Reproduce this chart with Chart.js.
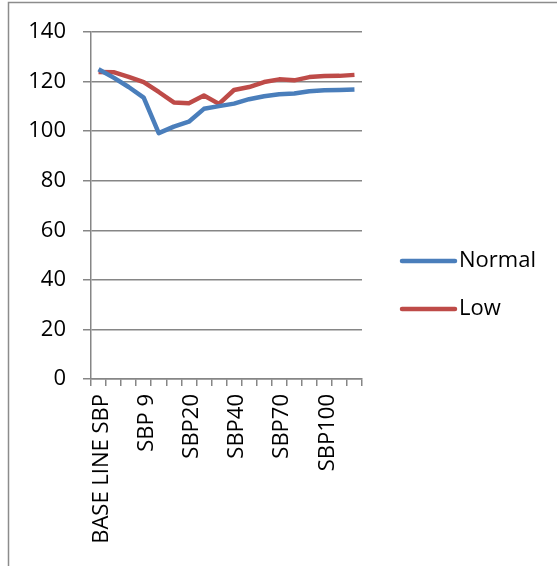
<!DOCTYPE html>
<html>
<head>
<meta charset="utf-8">
<script src="https://cdn.jsdelivr.net/npm/chart.js@4"></script>
<style>
  html, body { margin: 0; padding: 0; background: #fff; }
  #wrap { width: 557px; height: 566px; }
</style>
</head>
<body>
<div id="wrap"><canvas id="sbpChart" width="557" height="566"></canvas></div>
<script>
const categories = ["BASE LINE SBP", "SBP 3", "SBP 6", "SBP 9", "SBP12", "SBP15", "SBP20", "SBP25", "SBP30",
    "SBP40", "SBP50", "SBP60", "SBP70", "SBP80", "SBP90", "SBP100", "SBP110", "SBP120"];
const normalValues = [125, 121.6, 117.8, 113.5, 99.2, 101.8, 103.8, 109, 110.1, 111.1, 112.9, 114.1, 114.9, 115.2, 116.1, 116.5, 116.6, 116.8];
const lowValues = [123.9, 123.8, 121.9, 119.8, 115.8, 111.6, 111.3, 114.4, 111, 116.6, 117.8, 119.8, 120.9, 120.5, 121.8, 122.2, 122.3, 122.7];
const yTicks = [0, 20, 40, 60, 80, 100, 120, 140];

const FONT = "'Open Sans', 'Liberation Sans', sans-serif";
const GRID = '#868686';

// frame around the chart + legend
const framePlugin = {
    id: 'frame',
    beforeDraw(chart) {
        const ctx = chart.ctx;
        ctx.save();
        ctx.strokeStyle = '#8c8c8c';
        ctx.lineWidth = 1.5;
        ctx.beginPath();
        ctx.moveTo(8.5, 566);
        ctx.lineTo(8.5, 2.5);
        ctx.lineTo(557, 2.5);
        ctx.stroke();
        ctx.restore();
    },
    afterDraw(chart) {
        // legend on the right
        const ctx = chart.ctx;
        ctx.save();
        ctx.font = '22px ' + FONT;
        ctx.textBaseline = 'middle';
        const rows = [261, 309];
        chart.data.datasets.forEach((ds, i) => {
            const y = rows[i];
            ctx.strokeStyle = ds.borderColor;
            ctx.lineWidth = 4.5;
            ctx.lineCap = 'round';
            ctx.beginPath();
            ctx.moveTo(402, y);
            ctx.lineTo(455, y);
            ctx.stroke();
            ctx.fillStyle = '#000';
            ctx.fillText(ds.label, 459, y);
        });
        ctx.restore();
    }
};

const ctx = document.getElementById('sbpChart');
new Chart(ctx, {
    type: 'line',
    data: {
        labels: categories,
        datasets: [
            { label: 'Normal', data: normalValues, borderColor: '#4a7ebb', borderWidth: 4.5, pointRadius: 0, tension: 0, borderJoinStyle: 'round' },
            { label: 'Low', data: lowValues, borderColor: '#be4b48', borderWidth: 4.5, pointRadius: 0, tension: 0, borderJoinStyle: 'round' }
        ]
    },
    options: {
        responsive: false,
        animation: false,
        layout: { padding: { top: 32, right: 195, bottom: 0, left: 0 } },
        plugins: { legend: { display: false }, tooltip: { enabled: false } },
        scales: {
            x: {
                offset: true,
                afterFit: (scale) => { scale.height = 187; },
                grid: { offset: true, drawOnChartArea: false, drawTicks: true, tickLength: 7, color: GRID, lineWidth: 1.5 },
                border: { color: GRID, width: 1.5 },
                ticks: {
                    autoSkip: false,
                    maxRotation: 90,
                    minRotation: 90,
                    padding: 8,
                    labelOffset: 3,
                    color: '#000',
                    font: { family: FONT, size: 22 },
                    callback: (val, i) => (i % 3 === 0 ? categories[i] : '')
                }
            },
            y: {
                min: 0,
                max: 140,
                afterFit: (scale) => { scale.width = 91; },
                afterBuildTicks: (scale) => { scale.ticks = yTicks.map(v => ({ value: v })); },
                grid: { color: GRID, lineWidth: 1.5, tickLength: 8 },
                border: { color: GRID, width: 1.5 },
                ticks: { padding: 17, color: '#000', font: { family: FONT, size: 22 } }
            }
        }
    },
    plugins: [framePlugin]
});
</script>
</body>
</html>
